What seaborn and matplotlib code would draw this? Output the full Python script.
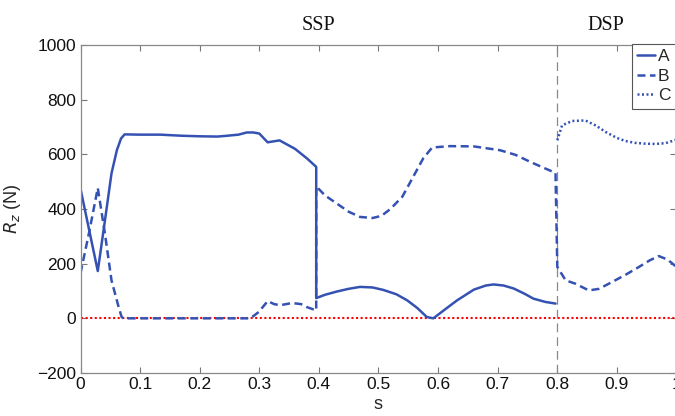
import numpy as np
import pandas as pd
import matplotlib
matplotlib.use("Agg")
import matplotlib.pyplot as plt
import seaborn as sns

# Vertical ground reaction force over the normalised step (s)
s_a = [0.0, 0.029, 0.041, 0.052, 0.061, 0.068, 0.074, 0.10, 0.134, 0.17, 0.20,
       0.23, 0.246, 0.265, 0.279, 0.29, 0.300, 0.314, 0.334, 0.36, 0.38, 0.3955,
       0.3955, 0.41, 0.43, 0.45, 0.469, 0.49, 0.508, 0.53, 0.548, 0.565, 0.581,
       0.592, 0.61, 0.632, 0.66, 0.68, 0.693, 0.71, 0.727, 0.745, 0.76, 0.78, 0.797]
rz_a = [474, 173, 358, 530, 615, 658, 673, 672, 672, 668, 666,
        665, 668, 672, 680, 680, 676, 644, 651, 620, 585, 554,
        74, 86, 98, 108, 115, 113, 104, 88, 66, 38, 5,
        0, 30, 66, 105, 120, 124, 120, 109, 90, 72, 60, 54]

s_b = [0.0, 0.015, 0.029, 0.041, 0.052, 0.064, 0.069, 0.072, 0.10, 0.20, 0.285,
       0.299, 0.314, 0.325, 0.335, 0.355, 0.37, 0.38, 0.3955,
       0.3955, 0.41, 0.43, 0.45, 0.469, 0.49, 0.505, 0.52, 0.54, 0.56, 0.575, 0.59,
       0.62, 0.66, 0.704, 0.73, 0.755, 0.78, 0.797,
       0.80, 0.814, 0.83, 0.853, 0.87, 0.892, 0.915, 0.937, 0.955, 0.97, 0.985, 1.0]
rz_b = [165, 320, 477, 310, 139, 41, 5, 0, 0, 0, 0,
        23, 63, 52, 48, 56, 52, 41, 29,
        483, 450, 420, 390, 371, 367, 375, 400, 445, 525, 585, 625,
        630, 629, 615, 598, 572, 548, 532,
        188, 139, 127, 102, 108, 133, 160, 188, 212, 228, 215, 188]

s_c = [0.800, 0.808, 0.825, 0.847, 0.865, 0.881, 0.90, 0.914, 0.93, 0.948,
       0.965, 0.982, 1.0]
rz_c = [651, 706, 722, 724, 705, 682, 660, 649, 642, 639, 638, 641, 654]

series_names = ["A", "B", "C"]
x_ticks = [0, 0.1, 0.2, 0.3, 0.4, 0.5, 0.6, 0.7, 0.8, 0.9, 1]
x_tick_labels = ["0", "0.1", "0.2", "0.3", "0.4", "0.5", "0.6", "0.7", "0.8", "0.9", "1"]
y_ticks = [-200, 0, 200, 400, 600, 800, 1000]
phase_labels = ["SSP", "DSP"]
phase_centres = [0.4, 0.882]
phase_boundary = 0.8

sns.set_style("ticks")
plt.rcParams["font.family"] = ["Liberation Sans", "DejaVu Sans"]

blue = "#3552b3"
fig = plt.figure(figsize=(6.75, 4.16), dpi=100)
ax = fig.add_axes([80.5 / 675, 43 / 416, 596 / 675, 328 / 416])

df_a = pd.DataFrame({"s": s_a, "Rz": rz_a})
df_b = pd.DataFrame({"s": s_b, "Rz": rz_b})
df_c = pd.DataFrame({"s": s_c, "Rz": rz_c})

sns.lineplot(data=df_a, x="s", y="Rz", sort=False, estimator=None, ax=ax,
             color=blue, linewidth=1.8)
line_a = ax.lines[-1]
sns.lineplot(data=df_b, x="s", y="Rz", sort=False, estimator=None, ax=ax,
             color=blue, linewidth=1.8)
line_b = ax.lines[-1]
line_b.set_dashes((3.2, 1.8))
sns.lineplot(data=df_c, x="s", y="Rz", sort=False, estimator=None, ax=ax,
             color=blue, linewidth=1.8)
line_c = ax.lines[-1]
line_c.set_dashes((0.8, 1.0))

# zero-force reference and phase boundary
ax.axhline(0, color="red", linestyle=(0, (1, 1.2)), linewidth=1.5, zorder=1)
ax.axvline(phase_boundary, color="#888888", linestyle=(0, (7, 4)), linewidth=0.9, zorder=1)

ax.set_xlim(0, 1)
ax.set_ylim(-200, 1000)
ax.set_xticks(x_ticks)
ax.set_xticklabels(x_tick_labels)
ax.set_yticks(y_ticks)
ax.tick_params(direction="in", length=4, width=0.8, color="#777777",
               labelsize=12.5, labelcolor="#111111", top=True, right=True, pad=3)
for sp in ax.spines.values():
    sp.set_color("#888888")
    sp.set_linewidth(0.9)

ax.set_xlabel("s", fontsize=13, labelpad=3)
ax.set_ylabel("$R_z$ (N)", fontsize=13, labelpad=10)

for name, xc in zip(phase_labels, phase_centres):
    ax.text(xc, 1.06, name, transform=ax.get_xaxis_transform(), ha="center",
            va="center", fontsize=14.5, family=["Liberation Serif", "DejaVu Serif"],
            color="#111111")

leg = ax.legend([line_a, line_b, line_c], series_names, loc="upper left",
                bbox_to_anchor=(632 / 675, 1 - 44 / 416), bbox_transform=fig.transFigure,
                fontsize=12.5, handlelength=1.0, handletextpad=0.2, labelspacing=0.25,
                borderpad=0.3, borderaxespad=0, frameon=True, fancybox=False)
leg.get_frame().set_edgecolor("#555555")
leg.get_frame().set_linewidth(0.8)
leg.get_frame().set_alpha(1)

fig.savefig("out.png", dpi=100)
